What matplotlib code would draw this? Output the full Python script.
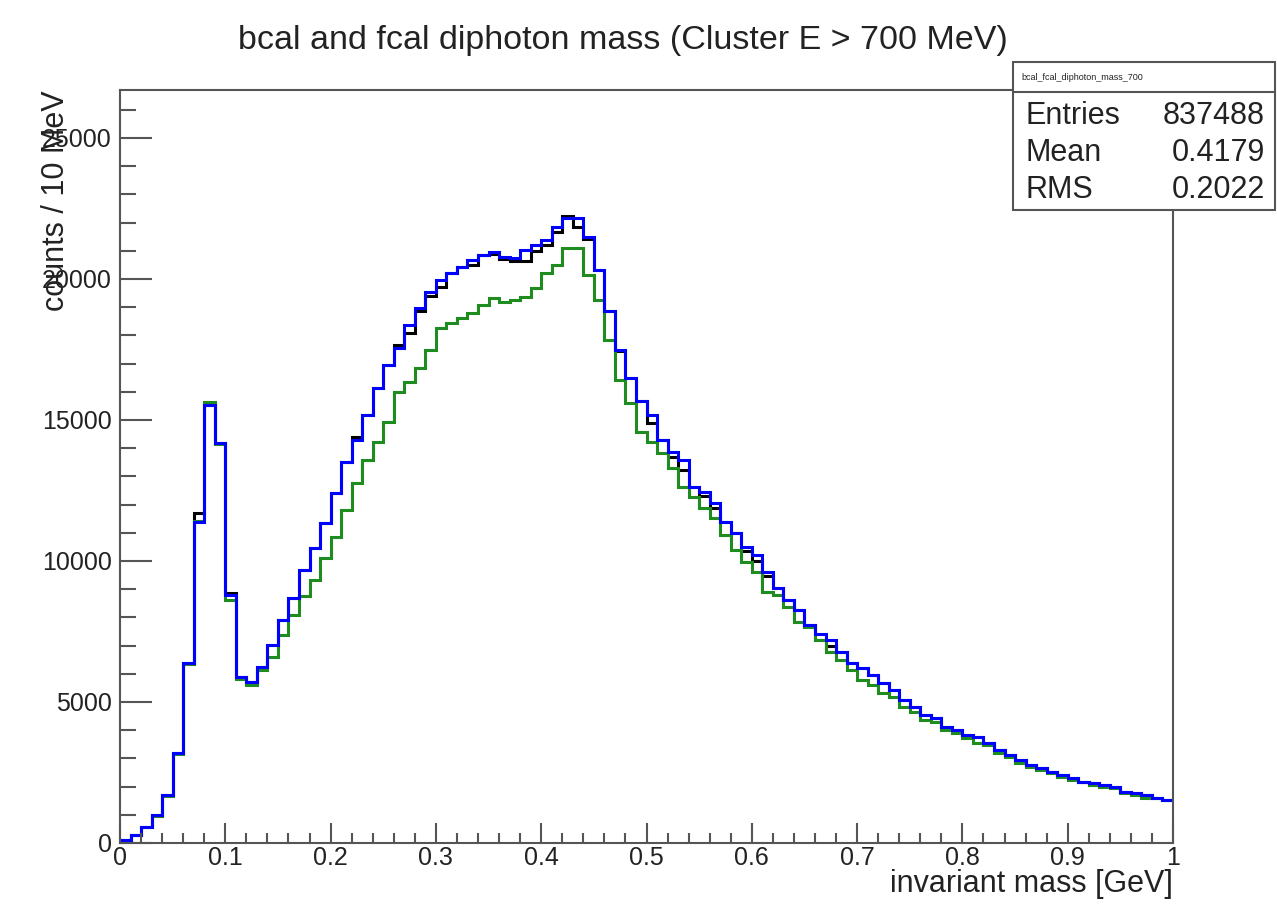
import numpy as np
import matplotlib
matplotlib.use('Agg')
import matplotlib.pyplot as plt
from matplotlib.patches import Rectangle
from matplotlib.lines import Line2D
from matplotlib.ticker import MultipleLocator

plt.rcParams['font.family'] = ['Liberation Sans', 'DejaVu Sans']

# 100 bins of 10 MeV from 0 to 1 GeV
bin_edges = np.linspace(0.0, 1.0, 101)

counts_blue = [
    100, 280, 580, 990, 1700, 3180, 6370, 11390, 15530, 14170,
    8800, 5900, 5720, 6250, 7020, 7900, 8690, 9680, 10450, 11340,
    12400, 13520, 14290, 15180, 16120, 16950, 17540, 18370, 18960, 19550,
    19960, 20200, 20440, 20670, 20850, 20970, 20770, 20730, 21030, 21200,
    21380, 21850, 22150, 22150, 21500, 20320, 18850, 17480, 16480, 15660,
    15180, 14290, 13880, 13580, 12640, 12460, 12050, 11390, 10980, 10510,
    10210, 9620, 9030, 8620, 8260, 7730, 7400, 7200, 6760, 6370,
    6190, 5960, 5660, 5430, 5070, 4830, 4540, 4420, 4130, 4010,
    3830, 3770, 3530, 3300, 3120, 2940, 2770, 2650, 2530, 2410,
    2290, 2170, 2120, 2060, 2000, 1820, 1760, 1700, 1580, 1520,
]

counts_black = [
    100, 280, 580, 990, 1700, 3180, 6370, 11700, 15530, 14170,
    8850, 5900, 5720, 6250, 7020, 7900, 8690, 9680, 10450, 11340,
    12400, 13520, 14400, 15180, 16120, 16950, 17650, 18100, 18850, 19390,
    19700, 20200, 20440, 20500, 20850, 20900, 20700, 20620, 20640, 21000,
    21200, 21670, 22220, 21850, 21420, 20320, 18850, 17450, 16480, 15660,
    14880, 14290, 13700, 13230, 12640, 12300, 11870, 11390, 10980, 10350,
    10000, 9450, 9030, 8620, 8260, 7730, 7200, 7000, 6760, 6370,
    6190, 5960, 5660, 5430, 5070, 4830, 4540, 4420, 4130, 4010,
    3830, 3770, 3530, 3300, 3120, 2940, 2770, 2650, 2530, 2410,
    2290, 2170, 2120, 2060, 2000, 1820, 1760, 1700, 1580, 1520,
]

counts_green = [
    100, 280, 560, 960, 1650, 3150, 6350, 11400, 15620, 14150,
    8620, 5800, 5600, 6150, 6600, 7380, 8080, 8750, 9330, 10100,
    10860, 11810, 12750, 13580, 14230, 14940, 16000, 16360, 16830, 17480,
    18250, 18430, 18610, 18780, 19080, 19310, 19190, 19260, 19370, 19670,
    20200, 20500, 21090, 21080, 20140, 19260, 17840, 16420, 15590, 14590,
    14230, 13820, 13290, 12640, 12280, 11870, 11510, 10920, 10390, 9980,
    9620, 8910, 8790, 8380, 7850, 7670, 7200, 6790, 6490, 6130,
    5780, 5600, 5310, 5190, 4830, 4660, 4360, 4300, 4010, 3890,
    3710, 3530, 3480, 3180, 3060, 2830, 2710, 2590, 2470, 2350,
    2230, 2170, 2060, 2000, 1940, 1760, 1700, 1580, 1580, 1520,
]

stats_name = 'bcal_fcal_diphoton_mass_700'
stats_rows = [('Entries', '837488'), ('Mean', '0.4179'), ('RMS', '0.2022')]

W, H = 1277, 916
fig = plt.figure(figsize=(W / 100, H / 100), dpi=100)
ax = fig.add_axes([120 / W, 1 - 843 / H, 1053 / W, 753 / H])

ax.stairs(counts_black, bin_edges, baseline=None, color='black', lw=2.2)
ax.stairs(counts_green, bin_edges, baseline=None, color='#1f8c1f', lw=2.2)
ax.stairs(counts_blue, bin_edges, baseline=None, color='#0000ff', lw=2.2)

ax.set_xlim(0, 1)
ax.set_ylim(0, 26700)
ax.xaxis.set_minor_locator(MultipleLocator(0.02))
ax.yaxis.set_major_locator(MultipleLocator(5000))
ax.yaxis.set_minor_locator(MultipleLocator(1000))
ax.set_xticks(np.arange(0, 1.01, 0.1))
ax.set_xticklabels(['0', '0.1', '0.2', '0.3', '0.4', '0.5', '0.6', '0.7', '0.8', '0.9', '1'])
ax.tick_params(axis='both', which='both', direction='in', colors='#555555',
               labelcolor='#222222', labelsize=18, width=1.5)
ax.tick_params(axis='y', which='major', length=23, pad=6)
ax.tick_params(axis='y', which='minor', length=11.5)
ax.tick_params(axis='x', which='major', length=14.5, pad=2)
ax.tick_params(axis='x', which='minor', length=7.5)
for s in ax.spines.values():
    s.set_color('#555555')
    s.set_linewidth(1.5)

# ROOT puts the axis titles at the far end of each axis
ax.set_ylabel('counts / 10 MeV', fontsize=22, color='#222222', ha='right')
ax.yaxis.set_label_coords(-0.047, 1.0)
ax.set_xlabel('invariant mass [GeV]', fontsize=22, color='#222222', ha='right', va='top')
ax.xaxis.set_label_coords(1.0, -0.035)

fig.text(623 / W, 1 - 40 / H, 'bcal and fcal diphoton mass (Cluster E > 700 MeV)',
         ha='center', va='center', fontsize=24.5, color='#222222')

# stats box
bx0, bx1, by0, bsep, by1 = 1013, 1275, 62, 92, 210
fig.patches.append(Rectangle((bx0 / W, 1 - by1 / H), (bx1 - bx0) / W, (by1 - by0) / H,
                             transform=fig.transFigure, facecolor='white',
                             edgecolor='#555555', lw=1.5, zorder=5))
fig.lines.append(Line2D([bx0 / W, bx1 / W], [1 - bsep / H, 1 - bsep / H],
                        transform=fig.transFigure, color='#555555', lw=1.5, zorder=6))
fig.text((bx0 + 8) / W, 1 - 77 / H, stats_name, fontsize=6.5, color='#222222',
         ha='left', va='center', zorder=7)
for i, (k, v) in enumerate(stats_rows):
    yy = 1 - (116 + 37 * i) / H
    fig.text((bx0 + 13) / W, yy, k, fontsize=22, color='#222222', ha='left', va='center', zorder=7)
    fig.text((bx1 - 10) / W, yy, v, fontsize=22, color='#222222', ha='right', va='center', zorder=7)

fig.savefig('out.png', dpi=100, facecolor='white')
